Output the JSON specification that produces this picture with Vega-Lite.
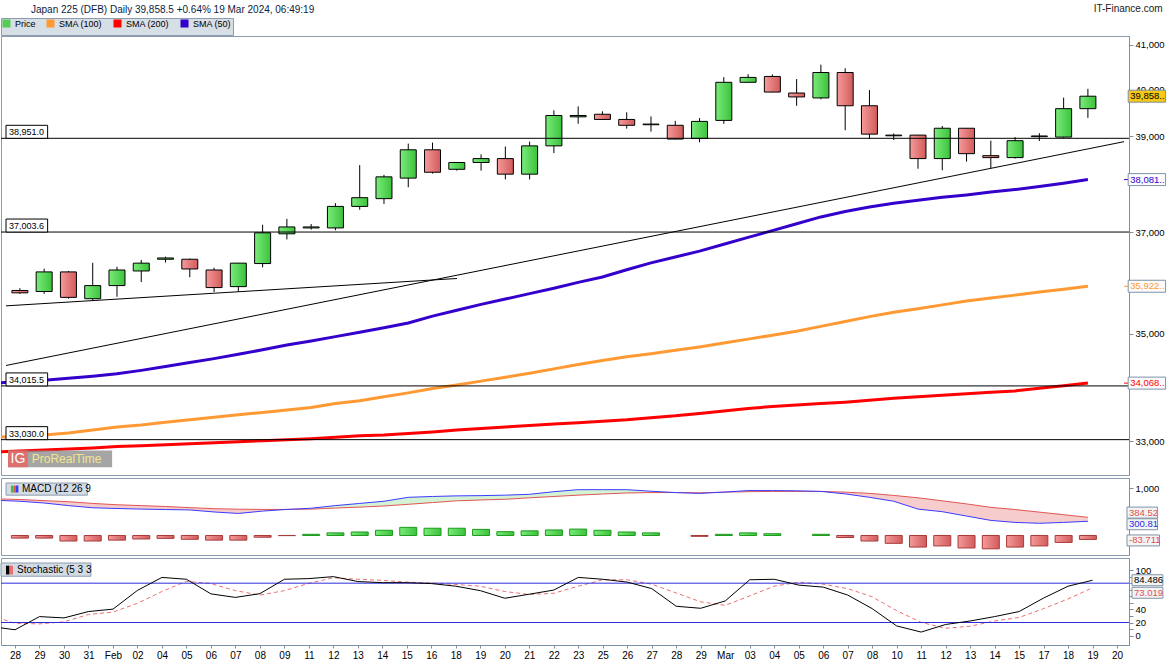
{
"$schema":"https://vega.github.io/schema/vega-lite/v6.json",
"padding":{"left":0,"top":4,"right":0,"bottom":0},
"background":"white",
"spacing":1,
"title":{"text":"IT-Finance.com","anchor":"end","frame":"bounds","offset":-10,"dx":-4,"fontSize":10,"font":"Liberation Sans","fontWeight":"normal","color":"#1a1a1a"},
"resolve":{"scale":{"color":"independent"}},
"datasets":{
"candles":[
{"i":0,"o":35839,"h":35883,"l":35773,"c":35793},
{"i":1,"o":35819,"h":36269,"l":35773,"c":36205},
{"i":2,"o":36205,"h":36224,"l":35678,"c":35704},
{"i":3,"o":35678,"h":36385,"l":35647,"c":35935},
{"i":4,"o":35935,"h":36307,"l":35716,"c":36243},
{"i":5,"o":36224,"h":36443,"l":36004,"c":36379},
{"i":6,"o":36457,"h":36508,"l":36391,"c":36482},
{"i":7,"o":36457,"h":36470,"l":36100,"c":36263},
{"i":8,"o":36243,"h":36288,"l":35810,"c":35896},
{"i":9,"o":35915,"h":36385,"l":35819,"c":36379},
{"i":10,"o":36371,"h":37152,"l":36294,"c":36988},
{"i":11,"o":36968,"h":37271,"l":36855,"c":37107},
{"i":12,"o":37087,"h":37166,"l":37053,"c":37107},
{"i":13,"o":37087,"h":37592,"l":37039,"c":37526},
{"i":14,"o":37526,"h":38384,"l":37457,"c":37706},
{"i":15,"o":37686,"h":38180,"l":37578,"c":38138},
{"i":16,"o":38112,"h":38838,"l":37921,"c":38707},
{"i":17,"o":38707,"h":38859,"l":38206,"c":38234},
{"i":18,"o":38296,"h":38450,"l":38268,"c":38439},
{"i":19,"o":38439,"h":38610,"l":38268,"c":38521},
{"i":20,"o":38521,"h":38776,"l":38083,"c":38194},
{"i":21,"o":38194,"h":38879,"l":38083,"c":38790},
{"i":22,"o":38790,"h":39551,"l":38637,"c":39440},
{"i":23,"o":39411,"h":39637,"l":39262,"c":39440},
{"i":24,"o":39467,"h":39530,"l":39350,"c":39355},
{"i":25,"o":39355,"h":39509,"l":39158,"c":39229},
{"i":26,"o":39241,"h":39420,"l":39094,"c":39256},
{"i":27,"o":39229,"h":39325,"l":38930,"c":38935},
{"i":28,"o":38948,"h":39383,"l":38865,"c":39313},
{"i":29,"o":39334,"h":40277,"l":39262,"c":40163},
{"i":30,"o":40163,"h":40342,"l":40158,"c":40271},
{"i":31,"o":40292,"h":40336,"l":39945,"c":39949},
{"i":32,"o":39928,"h":40234,"l":39651,"c":39843},
{"i":33,"o":39821,"h":40553,"l":39791,"c":40379},
{"i":34,"o":40379,"h":40472,"l":39124,"c":39651},
{"i":35,"o":39651,"h":39992,"l":38935,"c":39040},
{"i":36,"o":39019,"h":39054,"l":38915,"c":39005},
{"i":37,"o":39019,"h":39025,"l":38308,"c":38521},
{"i":38,"o":38521,"h":39214,"l":38276,"c":39166},
{"i":39,"o":39166,"h":39170,"l":38459,"c":38625},
{"i":40,"o":38583,"h":38900,"l":38316,"c":38542},
{"i":41,"o":38542,"h":38977,"l":38521,"c":38900},
{"i":42,"o":38986,"h":39060,"l":38894,"c":39001},
{"i":43,"o":38977,"h":39827,"l":38956,"c":39588},
{"i":44,"o":39588,"h":40020,"l":39389,"c":39858.5}
],
"sma":[
{"i":-1,"s":"SMA (50)","v":34068},{"i":0,"s":"SMA (50)","v":34096},{"i":1,"s":"SMA (50)","v":34123},{"i":2,"s":"SMA (50)","v":34159},{"i":3,"s":"SMA (50)","v":34196},{"i":4,"s":"SMA (50)","v":34242},{"i":5,"s":"SMA (50)","v":34306},{"i":6,"s":"SMA (50)","v":34380},{"i":7,"s":"SMA (50)","v":34453},{"i":8,"s":"SMA (50)","v":34527},{"i":9,"s":"SMA (50)","v":34610},{"i":10,"s":"SMA (50)","v":34694},{"i":11,"s":"SMA (50)","v":34787},{"i":12,"s":"SMA (50)","v":34861},{"i":13,"s":"SMA (50)","v":34945},{"i":14,"s":"SMA (50)","v":35029},{"i":15,"s":"SMA (50)","v":35114},{"i":16,"s":"SMA (50)","v":35208},{"i":17,"s":"SMA (50)","v":35340},{"i":18,"s":"SMA (50)","v":35454},{"i":19,"s":"SMA (50)","v":35568},{"i":20,"s":"SMA (50)","v":35672},{"i":21,"s":"SMA (50)","v":35777},{"i":22,"s":"SMA (50)","v":35883},{"i":23,"s":"SMA (50)","v":35998},{"i":24,"s":"SMA (50)","v":36104},{"i":25,"s":"SMA (50)","v":36249},{"i":26,"s":"SMA (50)","v":36385},{"i":27,"s":"SMA (50)","v":36502},{"i":28,"s":"SMA (50)","v":36620},{"i":29,"s":"SMA (50)","v":36757},{"i":30,"s":"SMA (50)","v":36895},{"i":31,"s":"SMA (50)","v":37033},{"i":32,"s":"SMA (50)","v":37172},{"i":33,"s":"SMA (50)","v":37311},{"i":34,"s":"SMA (50)","v":37421},{"i":35,"s":"SMA (50)","v":37512},{"i":36,"s":"SMA (50)","v":37592},{"i":37,"s":"SMA (50)","v":37652},{"i":38,"s":"SMA (50)","v":37713},{"i":39,"s":"SMA (50)","v":37763},{"i":40,"s":"SMA (50)","v":37824},{"i":41,"s":"SMA (50)","v":37875},{"i":42,"s":"SMA (50)","v":37935},{"i":43,"s":"SMA (50)","v":38006},{"i":44,"s":"SMA (50)","v":38081},
{"i":-1,"s":"SMA (100)","v":33072},{"i":0,"s":"SMA (100)","v":33090},{"i":1,"s":"SMA (100)","v":33116},{"i":2,"s":"SMA (100)","v":33152},{"i":3,"s":"SMA (100)","v":33205},{"i":4,"s":"SMA (100)","v":33259},{"i":5,"s":"SMA (100)","v":33294},{"i":6,"s":"SMA (100)","v":33348},{"i":7,"s":"SMA (100)","v":33392},{"i":8,"s":"SMA (100)","v":33437},{"i":9,"s":"SMA (100)","v":33481},{"i":10,"s":"SMA (100)","v":33526},{"i":11,"s":"SMA (100)","v":33571},{"i":12,"s":"SMA (100)","v":33616},{"i":13,"s":"SMA (100)","v":33688},{"i":14,"s":"SMA (100)","v":33742},{"i":15,"s":"SMA (100)","v":33814},{"i":16,"s":"SMA (100)","v":33886},{"i":17,"s":"SMA (100)","v":33968},{"i":18,"s":"SMA (100)","v":34032},{"i":19,"s":"SMA (100)","v":34105},{"i":20,"s":"SMA (100)","v":34178},{"i":21,"s":"SMA (100)","v":34251},{"i":22,"s":"SMA (100)","v":34334},{"i":23,"s":"SMA (100)","v":34416},{"i":24,"s":"SMA (100)","v":34490},{"i":25,"s":"SMA (100)","v":34564},{"i":26,"s":"SMA (100)","v":34619},{"i":27,"s":"SMA (100)","v":34684},{"i":28,"s":"SMA (100)","v":34749},{"i":29,"s":"SMA (100)","v":34824},{"i":30,"s":"SMA (100)","v":34898},{"i":31,"s":"SMA (100)","v":34973},{"i":32,"s":"SMA (100)","v":35048},{"i":33,"s":"SMA (100)","v":35142},{"i":34,"s":"SMA (100)","v":35236},{"i":35,"s":"SMA (100)","v":35330},{"i":36,"s":"SMA (100)","v":35416},{"i":37,"s":"SMA (100)","v":35482},{"i":38,"s":"SMA (100)","v":35558},{"i":39,"s":"SMA (100)","v":35634},{"i":40,"s":"SMA (100)","v":35691},{"i":41,"s":"SMA (100)","v":35748},{"i":42,"s":"SMA (100)","v":35810},{"i":43,"s":"SMA (100)","v":35865},{"i":44,"s":"SMA (100)","v":35922},
{"i":-1,"s":"SMA (200)","v":32807},{"i":0,"s":"SMA (200)","v":32825},{"i":1,"s":"SMA (200)","v":32843},{"i":2,"s":"SMA (200)","v":32860},{"i":3,"s":"SMA (200)","v":32878},{"i":4,"s":"SMA (200)","v":32905},{"i":5,"s":"SMA (200)","v":32922},{"i":6,"s":"SMA (200)","v":32940},{"i":7,"s":"SMA (200)","v":32958},{"i":8,"s":"SMA (200)","v":32975},{"i":9,"s":"SMA (200)","v":32993},{"i":10,"s":"SMA (200)","v":33010},{"i":11,"s":"SMA (200)","v":33028},{"i":12,"s":"SMA (200)","v":33046},{"i":13,"s":"SMA (200)","v":33072},{"i":14,"s":"SMA (200)","v":33099},{"i":15,"s":"SMA (200)","v":33116},{"i":16,"s":"SMA (200)","v":33143},{"i":17,"s":"SMA (200)","v":33170},{"i":18,"s":"SMA (200)","v":33205},{"i":19,"s":"SMA (200)","v":33232},{"i":20,"s":"SMA (200)","v":33259},{"i":21,"s":"SMA (200)","v":33286},{"i":22,"s":"SMA (200)","v":33312},{"i":23,"s":"SMA (200)","v":33339},{"i":24,"s":"SMA (200)","v":33366},{"i":25,"s":"SMA (200)","v":33392},{"i":26,"s":"SMA (200)","v":33428},{"i":27,"s":"SMA (200)","v":33463},{"i":28,"s":"SMA (200)","v":33508},{"i":29,"s":"SMA (200)","v":33553},{"i":30,"s":"SMA (200)","v":33598},{"i":31,"s":"SMA (200)","v":33634},{"i":32,"s":"SMA (200)","v":33661},{"i":33,"s":"SMA (200)","v":33688},{"i":34,"s":"SMA (200)","v":33715},{"i":35,"s":"SMA (200)","v":33751},{"i":36,"s":"SMA (200)","v":33787},{"i":37,"s":"SMA (200)","v":33814},{"i":38,"s":"SMA (200)","v":33841},{"i":39,"s":"SMA (200)","v":33868},{"i":40,"s":"SMA (200)","v":33896},{"i":41,"s":"SMA (200)","v":33923},{"i":42,"s":"SMA (200)","v":33970},{"i":43,"s":"SMA (200)","v":34020},{"i":44,"s":"SMA (200)","v":34068}
],
"levels":[{"v":38951.0,"t":"38,951.0"},{"v":37003.6,"t":"37,003.6"},{"v":34015.5,"t":"34,015.5"},{"v":33030.0,"t":"33,030.0"}],
"trend":[{"tl":"a","i":-0.572,"v":34398},{"tl":"a","i":45.487,"v":38879},{"tl":"b","i":-0.572,"v":35539},{"tl":"b","i":18.01,"v":36075}],
"vbox":[{"s":"SMA (50)","v":38081,"t":"38,081.."},{"s":"SMA (100)","v":35922,"t":"35,922.."},{"s":"SMA (200)","v":34068,"t":"34,068.."}],
"macd":[
{"i":-1,"m":745,"sg":775},
{"i":0,"m":724,"sg":761,"h":-55},{"i":1,"m":687,"sg":737,"h":-55},{"i":2,"m":632,"sg":715,"h":-117},{"i":3,"m":586,"sg":678,"h":-117},{"i":4,"m":571,"sg":650,"h":-98},{"i":5,"m":558,"sg":632,"h":-74},{"i":6,"m":549,"sg":613,"h":-61},{"i":7,"m":540,"sg":589,"h":-80},{"i":8,"m":497,"sg":567,"h":-98},{"i":9,"m":466,"sg":556,"h":-98},{"i":10,"m":516,"sg":551,"h":-37},{"i":11,"m":551,"sg":551,"h":-3},{"i":12,"m":576,"sg":558,"h":25},{"i":13,"m":632,"sg":580,"h":55},{"i":14,"m":678,"sg":600,"h":74},{"i":15,"m":724,"sg":624,"h":110},{"i":16,"m":807,"sg":659,"h":172},{"i":17,"m":825,"sg":696,"h":153},{"i":18,"m":838,"sg":733,"h":153},{"i":19,"m":843,"sg":751,"h":129},{"i":20,"m":853,"sg":766,"h":80},{"i":21,"m":871,"sg":797,"h":98},{"i":22,"m":926,"sg":825,"h":117},{"i":23,"m":969,"sg":853,"h":135},{"i":24,"m":969,"sg":877,"h":110},{"i":25,"m":969,"sg":899,"h":74},{"i":26,"m":936,"sg":908,"h":55},{"i":27,"m":908,"sg":908,"h":0},{"i":28,"m":890,"sg":902,"h":-18},{"i":29,"m":917,"sg":917,"h":25},{"i":30,"m":950,"sg":926,"h":55},{"i":31,"m":950,"sg":932,"h":37},{"i":32,"m":945,"sg":932,"h":0},{"i":33,"m":932,"sg":932,"h":25},{"i":34,"m":880,"sg":917,"h":-43},{"i":35,"m":807,"sg":890,"h":-117},{"i":36,"m":724,"sg":847,"h":-166},{"i":37,"m":558,"sg":797,"h":-245},{"i":38,"m":503,"sg":733,"h":-221},{"i":39,"m":411,"sg":668,"h":-264},{"i":40,"m":319,"sg":595,"h":-282},{"i":41,"m":276,"sg":549,"h":-245},{"i":42,"m":258,"sg":494,"h":-221},{"i":43,"m":276,"sg":440,"h":-147},{"i":44,"m":300.81,"sg":384.52,"h":-83.711}
],
"stoch":[
{"i":-1,"k":14,"d":31},{"i":0,"k":8.9,"d":18.8},{"i":1,"k":29,"d":17.9},{"i":2,"k":27,"d":21},{"i":3,"k":36.7,"d":32.3},{"i":4,"k":40.4,"d":35.8},{"i":5,"k":69,"d":49.3},{"i":6,"k":88.8,"d":67.3},{"i":7,"k":86,"d":82.9},{"i":8,"k":63.7,"d":79.4},{"i":9,"k":58.3,"d":68.6},{"i":10,"k":64,"d":61.9},{"i":11,"k":86,"d":68.6},{"i":12,"k":87,"d":79.8},{"i":13,"k":90,"d":88.3},{"i":14,"k":82.5,"d":86},{"i":15,"k":80.8,"d":84.3},{"i":16,"k":80.8,"d":81.6},{"i":17,"k":79.4,"d":80.2},{"i":18,"k":75.4,"d":78},{"i":19,"k":68.6,"d":75.4},{"i":20,"k":57,"d":67.3},{"i":21,"k":63.2,"d":62.7},{"i":22,"k":69.5,"d":64.6},{"i":23,"k":88.8,"d":75.4},{"i":24,"k":86,"d":85.2},{"i":25,"k":81.6,"d":85.2},{"i":26,"k":71.7,"d":78.5},{"i":27,"k":44.8,"d":65},{"i":28,"k":41.7,"d":51.5},{"i":29,"k":52.9,"d":46.2},{"i":30,"k":85.2,"d":60.6},{"i":31,"k":86,"d":75.4},{"i":32,"k":77.1,"d":81.6},{"i":33,"k":74,"d":78.5},{"i":34,"k":61.9,"d":71.7},{"i":35,"k":41.2,"d":59.2},{"i":36,"k":14.8,"d":38.1},{"i":37,"k":5.4,"d":20.2},{"i":38,"k":17,"d":11.2},{"i":39,"k":22.3,"d":14.3},{"i":40,"k":29,"d":22.3},{"i":41,"k":36.7,"d":27.7},{"i":42,"k":57.3,"d":41.2},{"i":43,"k":75.4,"d":56},{"i":44,"k":84.486,"d":73.019}
]
},
"vconcat":[
{
"width":1128,"height":439,
"title":{"text":"Japan 225 (DFB) Daily 39,858.5 +0.64% 19 Mar 2024, 06:49:19","anchor":"start","frame":"group","dx":30,"offset":3,"fontSize":10,"font":"Liberation Sans","fontWeight":"normal","color":"#0b1d40"},
"layer":[
{"data":{"name":"candles"},"mark":{"type":"rule","color":"#000","strokeWidth":1},
 "encoding":{
  "x":{"field":"i","type":"quantitative","scale":{"domain":[-0.572,45.487],"nice":false,"zero":false},"axis":null},
  "y":{"field":"l","type":"quantitative","scale":{"type":"log","domain":[32486,41081],"nice":false,"zero":false},
       "axis":{"orient":"right","title":null,"values":[33000,34000,35000,36000,37000,38000,39000,40000,41000],"tickCount":50,"labelOverlap":false,
         "labelExpr":"datum.value == 34000 || datum.value == 36000 || datum.value == 38000 ? '' : format(datum.value, ',d')","grid":false}},
  "y2":{"field":"h"}}},
{"data":{"name":"candles"},"transform":[{"filter":"datum.c >= datum.o"}],
 "mark":{"type":"bar","orient":"vertical","size":16,"stroke":"#000","strokeWidth":1,
   "fill":{"gradient":"linear","x1":0,"y1":0,"x2":1,"y2":0,"stops":[{"offset":0,"color":"#7aeb7a"},{"offset":1,"color":"#3cc23c"}]}},
 "encoding":{"x":{"field":"i","type":"quantitative"},"y":{"field":"o","type":"quantitative"},"y2":{"field":"c"}}},
{"data":{"name":"candles"},"transform":[{"filter":"datum.c < datum.o"}],
 "mark":{"type":"bar","orient":"vertical","size":16,"stroke":"#000","strokeWidth":1,
   "fill":{"gradient":"linear","x1":0,"y1":0,"x2":1,"y2":0,"stops":[{"offset":0,"color":"#f59a9a"},{"offset":1,"color":"#d25b5b"}]}},
 "encoding":{"x":{"field":"i","type":"quantitative"},"y":{"field":"o","type":"quantitative"},"y2":{"field":"c"}}},
{"data":{"name":"sma"},"mark":{"type":"line","strokeWidth":3,"clip":true},
 "encoding":{"x":{"field":"i","type":"quantitative"},"y":{"field":"v","type":"quantitative"},
  "color":{"field":"s","type":"nominal",
    "scale":{"domain":["Price","SMA (100)","SMA (200)","SMA (50)"],"range":["#55cc55","#ff9933","#ff0000","#3300cc"]},
    "legend":{"orient":"top","direction":"horizontal","title":null,"gridAlign":"none","symbolType":"square","symbolSize":16,"symbolStrokeWidth":4,"labelFontSize":9,"labelFont":"Liberation Sans","labelColor":"#000","columnPadding":4,"labelOffset":4,"padding":1,"offset":1,"fillColor":"#d6dee6","strokeColor":"#8c9cae"}}}},
{"data":{"name":"trend"},"mark":{"type":"line","color":"#000","strokeWidth":1},
 "encoding":{"x":{"field":"i","type":"quantitative"},"y":{"field":"v","type":"quantitative"},"detail":{"field":"tl"}}},
{"data":{"name":"levels"},"mark":{"type":"rule","color":"#000","strokeWidth":1},
 "encoding":{"y":{"field":"v","type":"quantitative"}}},
{"data":{"name":"levels"},"mark":{"type":"bar","orient":"horizontal","size":13,"yOffset":-6.5,"fill":"#fff","stroke":"#000","strokeWidth":1},
 "encoding":{"x":{"datum":-0.572,"type":"quantitative"},"x2":{"datum":1.143},"y":{"field":"v","type":"quantitative"}}},
{"data":{"name":"levels"},"mark":{"type":"text","align":"left","baseline":"middle","dx":3,"dy":-6,"fontSize":9,"font":"Liberation Sans","color":"#000"},
 "encoding":{"x":{"datum":-0.572,"type":"quantitative"},"y":{"field":"v","type":"quantitative"},"text":{"field":"t"}}},
{"data":{"name":"vbox"},"mark":{"type":"rule","strokeWidth":1},
 "encoding":{"x":{"datum":45.487,"type":"quantitative"},"x2":{"datum":45.66},"y":{"field":"v","type":"quantitative"},"color":{"field":"s","type":"nominal"}}},
{"data":{"name":"vbox"},"mark":{"type":"bar","orient":"horizontal","size":12,"fill":"#fbfbfb","stroke":"#7f93a8","strokeWidth":1},
 "encoding":{"x":{"datum":45.66,"type":"quantitative"},"x2":{"datum":47.2},"y":{"field":"v","type":"quantitative"}}},
{"data":{"name":"vbox"},"mark":{"type":"text","align":"left","baseline":"middle","dx":2,"fontSize":9.5,"font":"Liberation Sans"},
 "encoding":{"x":{"datum":45.66,"type":"quantitative"},"y":{"field":"v","type":"quantitative"},"text":{"field":"t"},"color":{"field":"s","type":"nominal"}}},
{"data":{"values":[{"v":39858.5,"t":"39,858.."}]},"mark":{"type":"bar","orient":"horizontal","size":12,"fill":"#f7c814","stroke":"#7f93a8","strokeWidth":1},
 "encoding":{"x":{"datum":45.66,"type":"quantitative"},"x2":{"datum":47.2},"y":{"field":"v","type":"quantitative"}}},
{"data":{"values":[{"v":39858.5,"t":"39,858.."}]},"mark":{"type":"text","align":"left","baseline":"middle","dx":2,"fontSize":9.5,"font":"Liberation Sans","color":"#000"},
 "encoding":{"x":{"datum":45.66,"type":"quantitative"},"y":{"field":"v","type":"quantitative"},"text":{"field":"t"}}},
{"data":{"values":[{"w":"ProRealTime"}]},"mark":{"type":"rect","fill":"#8e8e8e","opacity":0.8},
 "encoding":{"x":{"datum":-0.49,"type":"quantitative"},"x2":{"datum":3.8},"y":{"datum":32834,"type":"quantitative"},"y2":{"datum":32534}}},
{"data":{"values":[{"w":"IG"}]},"mark":{"type":"rect","fill":"#e46a6a","opacity":0.9},
 "encoding":{"x":{"datum":-0.49,"type":"quantitative"},"x2":{"datum":0.327},"y":{"datum":32834,"type":"quantitative"},"y2":{"datum":32534}}},
{"data":{"values":[{"w":"IG"}]},"mark":{"type":"text","align":"center","baseline":"middle","fontSize":14,"font":"Liberation Sans","color":"#fff"},
 "encoding":{"x":{"datum":-0.08,"type":"quantitative"},"y":{"datum":32680,"type":"quantitative"},"text":{"field":"w"}}},
{"data":{"values":[{"w":"ProRealTime"}]},"mark":{"type":"text","align":"left","baseline":"middle","fontSize":12,"font":"Liberation Sans","color":"#f3e68c"},
 "encoding":{"x":{"datum":0.49,"type":"quantitative"},"y":{"datum":32680,"type":"quantitative"},"text":{"field":"w"}}}
]
},
{
"width":1128,"height":77,
"layer":[
{"data":{"name":"macd"},"transform":[{"filter":"datum.i <= 11"}],"mark":{"type":"area","color":"#f6cccc","clip":true},
 "encoding":{"x":{"field":"i","type":"quantitative","scale":{"domain":[-0.572,45.487],"nice":false,"zero":false},"axis":null},
  "y":{"field":"m","type":"quantitative","scale":{"domain":[-307,1110],"nice":false,"zero":false},
       "axis":{"orient":"right","title":null,"values":[0,1000],"tickCount":10,"labelOverlap":false,"labelExpr":"datum.value == 0 ? '' : format(datum.value, ',d')","grid":false}},
  "y2":{"field":"sg"}}},
{"data":{"name":"macd"},"transform":[{"filter":"datum.i >= 11 && datum.i <= 27"}],"mark":{"type":"area","color":"#d4f2d4"},
 "encoding":{"x":{"field":"i","type":"quantitative"},"y":{"field":"m","type":"quantitative"},"y2":{"field":"sg"}}},
{"data":{"name":"macd"},"transform":[{"filter":"datum.i >= 27 && datum.i <= 29"}],"mark":{"type":"area","color":"#f6cccc"},
 "encoding":{"x":{"field":"i","type":"quantitative"},"y":{"field":"m","type":"quantitative"},"y2":{"field":"sg"}}},
{"data":{"name":"macd"},"transform":[{"filter":"datum.i >= 29 && datum.i <= 33"}],"mark":{"type":"area","color":"#d4f2d4"},
 "encoding":{"x":{"field":"i","type":"quantitative"},"y":{"field":"m","type":"quantitative"},"y2":{"field":"sg"}}},
{"data":{"name":"macd"},"transform":[{"filter":"datum.i >= 33"}],"mark":{"type":"area","color":"#f6cccc"},
 "encoding":{"x":{"field":"i","type":"quantitative"},"y":{"field":"m","type":"quantitative"},"y2":{"field":"sg"}}},
{"data":{"name":"macd"},"mark":{"type":"line","color":"#e05555","strokeWidth":1,"clip":true},
 "encoding":{"x":{"field":"i","type":"quantitative"},"y":{"field":"sg","type":"quantitative"}}},
{"data":{"name":"macd"},"mark":{"type":"line","color":"#3b3bff","strokeWidth":1,"clip":true},
 "encoding":{"x":{"field":"i","type":"quantitative"},"y":{"field":"m","type":"quantitative"}}},
{"data":{"name":"macd"},"transform":[{"filter":"datum.h > 0"}],
 "mark":{"type":"bar","orient":"vertical","size":17,"stroke":"#1d991d","strokeWidth":1,
   "fill":{"gradient":"linear","x1":0,"y1":0,"x2":1,"y2":0,"stops":[{"offset":0,"color":"#7aeb7a"},{"offset":1,"color":"#3cc23c"}]}},
 "encoding":{"x":{"field":"i","type":"quantitative"},"y":{"field":"h","type":"quantitative"},"y2":{"datum":0}}},
{"data":{"name":"macd"},"transform":[{"filter":"datum.h < 0"}],
 "mark":{"type":"bar","orient":"vertical","size":17,"stroke":"#a83a3a","strokeWidth":1,
   "fill":{"gradient":"linear","x1":0,"y1":0,"x2":1,"y2":0,"stops":[{"offset":0,"color":"#f59a9a"},{"offset":1,"color":"#d25b5b"}]}},
 "encoding":{"x":{"field":"i","type":"quantitative"},"y":{"field":"h","type":"quantitative"},"y2":{"datum":0}}},
{"mark":{"type":"rule","color":"#2b2bdd","strokeWidth":1},"encoding":{"y":{"datum":0,"type":"quantitative"}}},
{"data":{"values":[{"v":384.52,"t":"384.52"}]},"mark":{"type":"bar","orient":"horizontal","size":11,"yOffset":-4.7,"fill":"#f4f4f4","stroke":"#7f93a8","strokeWidth":1},
 "encoding":{"x":{"datum":45.61,"type":"quantitative"},"x2":{"datum":46.87},"y":{"field":"v","type":"quantitative"}}},
{"data":{"values":[{"v":384.52,"t":"384.52"}]},"mark":{"type":"text","align":"left","baseline":"middle","dx":2,"dy":-4.7,"fontSize":9.5,"font":"Liberation Sans","color":"#e05050"},
 "encoding":{"x":{"datum":45.61,"type":"quantitative"},"y":{"field":"v","type":"quantitative"},"text":{"field":"t"}}},
{"data":{"values":[{"v":300.81,"t":"300.81"}]},"mark":{"type":"bar","orient":"horizontal","size":11,"yOffset":3,"fill":"#f4f4f4","stroke":"#7f93a8","strokeWidth":1},
 "encoding":{"x":{"datum":45.61,"type":"quantitative"},"x2":{"datum":46.87},"y":{"field":"v","type":"quantitative"}}},
{"data":{"values":[{"v":300.81,"t":"300.81"}]},"mark":{"type":"text","align":"left","baseline":"middle","dx":2,"dy":3,"fontSize":9.5,"font":"Liberation Sans","color":"#2a2aee"},
 "encoding":{"x":{"datum":45.61,"type":"quantitative"},"y":{"field":"v","type":"quantitative"},"text":{"field":"t"}}},
{"data":{"values":[{"v":-83.711,"t":"-83.711"}]},"mark":{"type":"bar","orient":"horizontal","size":11,"yOffset":1,"fill":"#f4f4f4","stroke":"#7f93a8","strokeWidth":1},
 "encoding":{"x":{"datum":45.61,"type":"quantitative"},"x2":{"datum":46.95},"y":{"field":"v","type":"quantitative"}}},
{"data":{"values":[{"v":-83.711,"t":"-83.711"}]},"mark":{"type":"text","align":"left","baseline":"middle","dx":2,"dy":1,"fontSize":9.5,"font":"Liberation Sans","color":"#e05050"},
 "encoding":{"x":{"datum":45.61,"type":"quantitative"},"y":{"field":"v","type":"quantitative"},"text":{"field":"t"}}},
{"data":{"values":[{"t":"MACD (12 26 9"}]},"mark":{"type":"rect","fill":"#d3dbe3","stroke":"#8c9cae","strokeWidth":1},
 "encoding":{"x":{"datum":-0.572,"type":"quantitative"},"x2":{"datum":2.78},"y":{"datum":1110,"type":"quantitative"},"y2":{"datum":853}}},
{"data":{"values":[{"k":"icon"}]},"mark":{"type":"rect","fill":"#3cc23c"},
 "encoding":{"x":{"datum":-0.3675,"type":"quantitative"},"x2":{"datum":-0.2654},"y":{"datum":1055,"type":"quantitative"},"y2":{"datum":908}}},
{"data":{"values":[{"k":"icon"}]},"mark":{"type":"rect","fill":"#e05555"},
 "encoding":{"x":{"datum":-0.2654,"type":"quantitative"},"x2":{"datum":-0.1633},"y":{"datum":1055,"type":"quantitative"},"y2":{"datum":908}}},
{"data":{"values":[{"k":"icon"}]},"mark":{"type":"rect","fill":"#3b3bff"},
 "encoding":{"x":{"datum":-0.1633,"type":"quantitative"},"x2":{"datum":-0.0613},"y":{"datum":1055,"type":"quantitative"},"y2":{"datum":908}}},
{"data":{"values":[{"t":"MACD (12 26 9"}]},"mark":{"type":"text","align":"left","baseline":"middle","dx":16,"fontSize":10,"font":"Liberation Sans","color":"#000"},
 "encoding":{"x":{"datum":-0.572,"type":"quantitative"},"y":{"datum":982,"type":"quantitative"},"text":{"field":"t"}}}
]
},
{
"width":1128,"height":87,
"layer":[
{"data":{"name":"stoch"},"mark":{"type":"line","color":"#ec7070","strokeWidth":1,"strokeDash":[4,3],"clip":true},
 "encoding":{
  "x":{"field":"i","type":"quantitative","scale":{"domain":[-0.572,45.487],"nice":false,"zero":false},
   "axis":{"orient":"bottom","title":null,"values":[0,1,2,3,4,5,6,7,8,9,10,11,12,13,14,15,16,17,18,19,20,21,22,23,24,25,26,27,28,29,30,31,32,33,34,35,36,37,38,39,40,41,42,43,44,45],"tickCount":100,
     "labelExpr":"['28','29','30','31','Feb','02','04','05','06','07','08','09','11','12','13','14','15','16','18','19','20','21','22','23','25','26','27','28','29','Mar','03','04','05','06','07','08','10','11','12','13','14','15','17','18','19','20'][datum.value]",
     "labelOverlap":false,"labelFontSize":10,"tickSize":3,"labelPadding":2,"grid":false}},
  "y":{"field":"d","type":"quantitative","scale":{"domain":[-6.7,110.8],"nice":false,"zero":false},
       "axis":{"orient":"right","title":null,"values":[0,10,20,30,40,50,60,70,80,90,100],"tickCount":50,"labelOverlap":false,"labelExpr":"datum.value == 0 || datum.value == 20 || datum.value == 40 || datum.value == 100 ? format(datum.value, 'd') : ''","grid":false}}}},
{"data":{"values":[{"v":20},{"v":80}]},"mark":{"type":"rule","color":"#2b2bdd","strokeWidth":1},
 "encoding":{"y":{"field":"v","type":"quantitative"}}},
{"data":{"name":"stoch"},"mark":{"type":"line","color":"#000","strokeWidth":1,"clip":true},
 "encoding":{"x":{"field":"i","type":"quantitative"},"y":{"field":"k","type":"quantitative"}}},
{"data":{"values":[{"v":84.486,"t":"84.486"}]},"mark":{"type":"bar","orient":"horizontal","size":11,"fill":"#f4f4f4","stroke":"#7f93a8","strokeWidth":1},
 "encoding":{"x":{"datum":45.61,"type":"quantitative"},"x2":{"datum":46.87},"y":{"field":"v","type":"quantitative"}}},
{"data":{"values":[{"v":84.486,"t":"84.486"}]},"mark":{"type":"text","align":"left","baseline":"middle","dx":2,"fontSize":9.5,"font":"Liberation Sans","color":"#000"},
 "encoding":{"x":{"datum":45.61,"type":"quantitative"},"y":{"field":"v","type":"quantitative"},"text":{"field":"t"}}},
{"data":{"values":[{"v":73.019,"t":"73.019"}]},"mark":{"type":"bar","orient":"horizontal","size":11,"yOffset":5,"fill":"#f4f4f4","stroke":"#7f93a8","strokeWidth":1},
 "encoding":{"x":{"datum":45.61,"type":"quantitative"},"x2":{"datum":46.87},"y":{"field":"v","type":"quantitative"}}},
{"data":{"values":[{"v":73.019,"t":"73.019"}]},"mark":{"type":"text","align":"left","baseline":"middle","dx":2,"dy":5,"fontSize":9.5,"font":"Liberation Sans","color":"#e05050"},
 "encoding":{"x":{"datum":45.61,"type":"quantitative"},"y":{"field":"v","type":"quantitative"},"text":{"field":"t"}}},
{"data":{"values":[{"t":"Stochastic (5 3 3"}]},"mark":{"type":"rect","fill":"#d3dbe3","stroke":"#8c9cae","strokeWidth":1},
 "encoding":{"x":{"datum":-0.572,"type":"quantitative"},"x2":{"datum":3.1},"y":{"datum":110.8,"type":"quantitative"},"y2":{"datum":90.6}}},
{"data":{"values":[{"k":"icon"}]},"mark":{"type":"rect","fill":"#000"},
 "encoding":{"x":{"datum":-0.3675,"type":"quantitative"},"x2":{"datum":-0.2245},"y":{"datum":106.7,"type":"quantitative"},"y2":{"datum":93.3}}},
{"data":{"values":[{"k":"icon"}]},"mark":{"type":"rect","fill":"#ec7070"},
 "encoding":{"x":{"datum":-0.2245,"type":"quantitative"},"x2":{"datum":-0.0817},"y":{"datum":106.7,"type":"quantitative"},"y2":{"datum":93.3}}},
{"data":{"values":[{"t":"Stochastic (5 3 3"}]},"mark":{"type":"text","align":"left","baseline":"middle","dx":16,"fontSize":10,"font":"Liberation Sans","color":"#000"},
 "encoding":{"x":{"datum":-0.572,"type":"quantitative"},"y":{"datum":100.5,"type":"quantitative"},"text":{"field":"t"}}}
]
}
],
"config":{
 "view":{"stroke":"#8c9db0","strokeWidth":1},
 "axis":{"labelFont":"Liberation Sans","labelFontSize":9.5,"labelColor":"#000","domainColor":"#7d8fa3","tickColor":"#7d8fa3","tickSize":4,"labelPadding":2,"labelOverlap":false}
}
}
